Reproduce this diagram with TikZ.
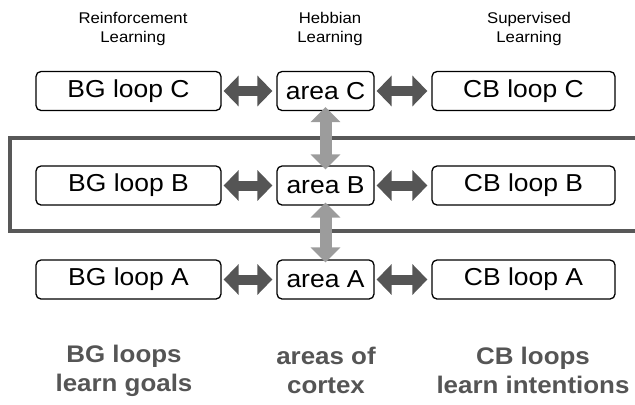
\documentclass[tikz,border=0pt]{standalone}
\usepackage{fontspec}
\setmainfont[FakeStretch=1.08]{Liberation Sans}
\usetikzlibrary{arrows.meta}
\definecolor{darkarrow}{HTML}{555555}
\definecolor{lightarrow}{HTML}{9C9C9C}
\definecolor{labelgray}{HTML}{555555}
\definecolor{framegray}{HTML}{585858}
\begin{document}
\begin{tikzpicture}[x=1bp,y=-1bp,
  box/.style={draw=black, line width=1.3bp, rounded corners=5bp, fill=white,
    minimum height=39bp, inner sep=0pt, font=\fontsize{24.5bp}{27bp}\selectfont},
  bgbox/.style={box, minimum width=185bp},
  areabox/.style={box, minimum width=97bp},
  cbbox/.style={box, minimum width=183bp},
  toplabel/.style={align=center, font=\fontsize{15.5bp}{19bp}\selectfont},
  botlabel/.style={align=center, text=labelgray, font=\fontsize{24bp}{29bp}\selectfont\bfseries},
  hlink/.style={draw=darkarrow, line width=10bp,
    {Triangle[width=30bp,length=15bp]}-{Triangle[width=30bp,length=15bp]}},
  vlink/.style={draw=lightarrow, line width=12bp,
    {Triangle[width=29bp,length=15bp]}-{Triangle[width=29bp,length=15bp]}},
  framestyle/.style={draw=framegray, line width=4bp, line join=miter}
]
\useasboundingbox (0,0) rectangle (635,404);

% frame around row B (open to the right edge)
\draw[framestyle] (645,138) -- (10,138) -- (10,231) -- (645,231);

% top labels
\node[toplabel] (rl) at (133,28.5) {Reinforcement\\Learning};
\node[toplabel] (hl) at (330,28.5) {Hebbian\\Learning};
\node[toplabel] (sl) at (529,28.5) {Supervised\\Learning};

% row C
\node[bgbox]   (bgC)   at (128.5,91) {BG loop C};
\node[areabox] (areaC) at (325.5,91) {area C};
\node[cbbox]   (cbC)   at (523.5,91) {CB loop C};
% row B
\node[bgbox]   (bgB)   at (128.5,185.5) {BG loop B};
\node[areabox] (areaB) at (325.5,185.5) {area B};
\node[cbbox]   (cbB)   at (523.5,185.5) {CB loop B};
% row A
\node[bgbox]   (bgA)   at (128.5,279.5) {BG loop A};
\node[areabox] (areaA) at (325.5,279.5) {area A};
\node[cbbox]   (cbA)   at (523.5,279.5) {CB loop A};

% horizontal arrows
\foreach \r in {C,B,A}{
  \draw[hlink] ([xshift=2bp]bg\r.east) -- ([xshift=-4bp]area\r.west);
  \draw[hlink] ([xshift=2bp]area\r.east) -- ([xshift=-4bp]cb\r.west);
}

% vertical arrows
\draw[vlink] ([yshift=4bp]areaC.south) -- ([yshift=-4bp]areaB.north);
\draw[vlink] ([yshift=3bp]areaB.south) -- ([yshift=-3bp]areaA.north);

% bottom labels
\node[botlabel] (bgl) at (124,370.5) {BG loops\\learn goals};
\node[botlabel] (arl) at (326,370.5) {areas of\\cortex};
\node[botlabel] (cbl) at (533,370.5) {CB loops\\learn intentions};
\end{tikzpicture}
\end{document}
